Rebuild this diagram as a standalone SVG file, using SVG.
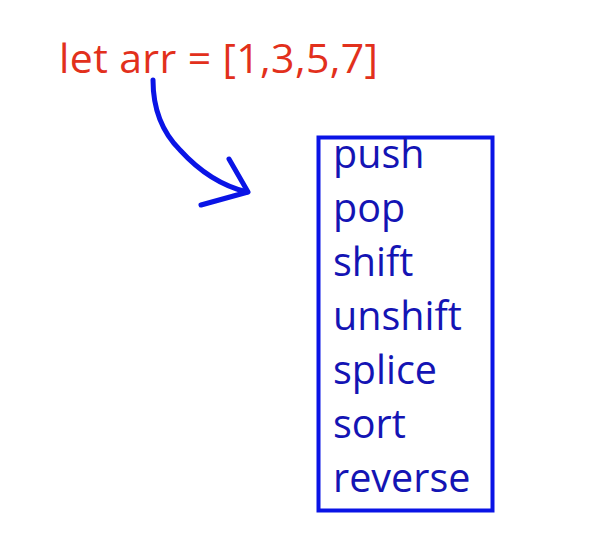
<svg xmlns="http://www.w3.org/2000/svg" width="602" height="556" viewBox="0 0 602 556">
<style>
.code{font-family:"Open Sans","Noto Sans",sans-serif;font-size:41px;fill:#e2301c}
.item{font-family:"Open Sans","Noto Sans",sans-serif;font-size:39.5px;fill:#1414b4}
.ink{fill:none;stroke:#0a14e6;stroke-width:5;stroke-linecap:round;stroke-linejoin:round}
</style>
<rect width="602" height="556" fill="#ffffff"/>
<g id="code">
<text class="code" x="59" y="73" textLength="319" lengthAdjust="spacing">let arr = [1,3,5,7]</text>
</g>
<g id="connectors">
<path class="ink" d="M153,80 C153,107 160,130 180,150 C200,172 222,186 247,192"/>
<path class="ink" d="M229,159 L248,192 L201,205"/>
</g>
<g id="methods">
<rect x="318.5" y="137.5" width="174" height="373" fill="none" stroke="#0a14e6" stroke-width="4"/>
<text class="item" x="333" y="168">push</text>
<text class="item" x="333" y="222">pop</text>
<text class="item" x="333" y="276">shift</text>
<text class="item" x="333" y="330">unshift</text>
<text class="item" x="333" y="384">splice</text>
<text class="item" x="333" y="438">sort</text>
<text class="item" x="333" y="492">reverse</text>
</g>
</svg>
